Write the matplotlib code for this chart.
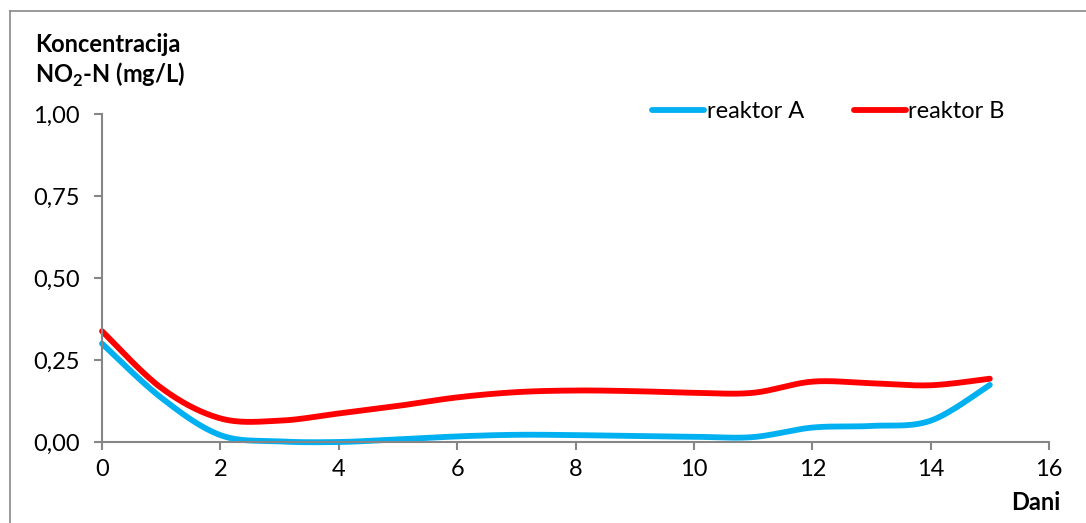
import numpy as np
import matplotlib
matplotlib.use("Agg")
import matplotlib.pyplot as plt
from matplotlib.lines import Line2D

days = [0, 1, 2, 3, 4, 5, 6, 7, 8, 9, 10, 11, 12, 13, 14, 15]
reaktor_a = [0.300, 0.135, 0.021, 0.002, 0.000, 0.008, 0.017, 0.022, 0.021, 0.018,
             0.016, 0.015, 0.044, 0.049, 0.065, 0.174]
reaktor_b = [0.338, 0.165, 0.072, 0.065, 0.087, 0.110, 0.136, 0.152, 0.157, 0.155,
             0.150, 0.150, 0.184, 0.179, 0.173, 0.193]
series_names = ["reaktor A", "reaktor B"]
yticks = [0.0, 0.25, 0.5, 0.75, 1.0]
xticks = [0, 2, 4, 6, 8, 10, 12, 14, 16]


def smooth(x, y, n=30, tension=0.5):
    # Cardinal (Catmull-Rom-like) spline, similar to Excel's smoothed line
    x = np.asarray(x, float)
    y = np.asarray(y, float)
    pts = np.column_stack([x, y])
    out = []
    for i in range(len(pts) - 1):
        p0 = pts[i - 1] if i > 0 else pts[i]
        p1 = pts[i]
        p2 = pts[i + 1]
        p3 = pts[i + 2] if i + 2 < len(pts) else pts[i + 1]
        m1 = tension * (p2 - p0)
        m2 = tension * (p3 - p1)
        t = np.linspace(0, 1, n, endpoint=False)[:, None]
        h00 = 2 * t**3 - 3 * t**2 + 1
        h10 = t**3 - 2 * t**2 + t
        h01 = -2 * t**3 + 3 * t**2
        h11 = t**3 - t**2
        out.append(h00 * p1 + h10 * m1 + h01 * p2 + h11 * m2)
    out.append(pts[-1][None, :])
    out = np.vstack(out)
    return out[:, 0], out[:, 1]


font = "Lato"
plt.rcParams["font.family"] = [font, "DejaVu Sans"]
plt.rcParams["mathtext.fontset"] = "custom"
plt.rcParams["mathtext.rm"] = font
plt.rcParams["mathtext.bf"] = font + ":bold"

FS = 17
fig = plt.figure(figsize=(10.86, 5.23), dpi=100)
ax = fig.add_axes([102 / 1086, 1 - 442 / 523, (1049 - 102) / 1086, (442 - 114) / 523])

gray = "#868686"
blue = "#00B0F0"
red = "#FF0000"
LW = 4.2

xa, ya = smooth(days, reaktor_a)
xb, yb = smooth(days, reaktor_b)
ax.plot(xa, ya, color=blue, lw=LW, solid_capstyle="round", label=series_names[0], clip_on=False)
ax.plot(xb, yb, color=red, lw=LW, solid_capstyle="round", label=series_names[1], clip_on=False)

ax.set_xlim(0, 16)
ax.set_ylim(0, 1.0)
ax.set_xticks(xticks)
ax.set_yticks(yticks)
ax.set_xticklabels([str(v) for v in xticks])
ax.set_yticklabels([f"{v:.2f}".replace(".", ",") for v in yticks])
for s in ["top", "right"]:
    ax.spines[s].set_visible(False)
for s in ["left", "bottom"]:
    ax.spines[s].set_color(gray)
    ax.spines[s].set_linewidth(1.5)
ax.tick_params(axis="both", direction="out", length=6, width=1.5, color=gray,
               labelsize=FS, labelcolor="black")
ax.tick_params(axis="x", pad=6)
ax.tick_params(axis="y", pad=10)

# legend
handles = [Line2D([0], [0], color=blue, lw=LW, solid_capstyle="round"),
           Line2D([0], [0], color=red, lw=LW, solid_capstyle="round")]
leg = ax.legend(handles, series_names, loc="center left",
                bbox_to_anchor=(652 / 1086, 1 - 112 / 523), bbox_transform=fig.transFigure,
                ncol=2, frameon=False, fontsize=FS, handlelength=2.2, handletextpad=0.12,
                columnspacing=2.1, borderaxespad=0, borderpad=0)

# axis titles
fig.text(35 / 1086, 1 - 44 / 523, "Koncentracija", fontsize=FS, fontweight="bold",
         ha="left", va="center")
fig.text(35 / 1086, 1 - 75 / 523, r"NO$_\mathbf{2}$-N (mg/L)", fontsize=FS, fontweight="bold",
         ha="left", va="center")
fig.text(1060 / 1086, 1 - 503 / 523, "Dani", fontsize=FS, fontweight="bold",
         ha="right", va="center")

# chart-area border (left and top edges visible)
fig.add_artist(Line2D([10 / 1086, 10 / 1086], [0, 1 - 11 / 523], transform=fig.transFigure,
                      color="#898989", lw=1.2))
fig.add_artist(Line2D([10 / 1086, 1], [1 - 11 / 523, 1 - 11 / 523], transform=fig.transFigure,
                      color="#898989", lw=1.2))

fig.savefig("out.png", dpi=100)
